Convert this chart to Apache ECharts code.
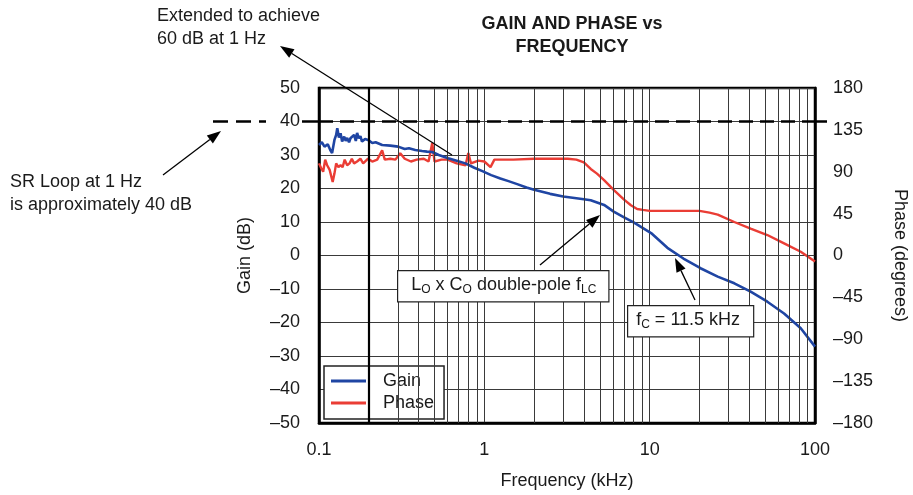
<!DOCTYPE html>
<html><head><meta charset="utf-8">
<script src="https://cdn.jsdelivr.net/npm/echarts/dist/echarts.min.js"></script>
<style>html,body{margin:0;padding:0;background:#fff}#c{width:913px;height:495px}</style>
</head><body><div id="c"></div>
<script>
// ---- data ----
const gainFreq = [0.100,0.104,0.108,0.113,0.117,0.120,0.124,0.127,0.129,0.132,0.135,0.138,0.142,0.145,0.148,0.152,0.155,0.159,0.163,0.167,0.170,0.174,0.178,0.182,0.190,0.198,0.21,0.22,0.241,0.27,0.301,0.33,0.35,0.382,0.42,0.45,0.484,0.53,0.605,0.68,0.768,0.87,0.973,1.1,1.25,1.4,1.58,1.8,2.0,2.5,3.0,4.0,4.4,5.3,6.06,7.0,8.0,10.2,12.8,16.0,20.3,25.8,32.5,40.8,51.5,65,82,100];
const gainDb = [33.0,33.8,32.5,33.2,31.5,30.6,34.5,36.0,38.0,35.2,36.5,34.0,35.5,34.2,35.1,33.8,35.0,34.5,36.0,34.2,36.6,35.0,35.6,34.0,34.8,34.5,33.6,33.8,33.0,32.8,32.5,31.8,32.0,31.5,31.2,31.0,30.9,30.0,29.0,28.3,27.5,26.2,25.2,24.0,23.0,22.2,21.3,20.3,19.6,18.4,17.6,16.8,16.5,15.1,13.1,11.4,9.9,6.7,2.3,-0.9,-3.8,-6.3,-8.3,-10.8,-13.8,-17.3,-21.7,-27.2];
const phaseFreq = [0.100,0.103,0.106,0.109,0.112,0.116,0.119,0.121,0.124,0.127,0.131,0.135,0.139,0.143,0.148,0.153,0.158,0.163,0.170,0.178,0.185,0.198,0.21,0.225,0.241,0.25,0.27,0.29,0.31,0.33,0.36,0.39,0.43,0.46,0.484,0.50,0.55,0.60,0.68,0.77,0.80,0.83,0.92,1.0,1.09,1.15,1.5,2.0,2.6,3.2,3.6,4.0,4.4,4.8,5.3,6.1,7.0,7.7,8.4,9.1,10,15,20,23,25.8,32.5,40.8,51.5,65,82,100];
const phaseDeg = [99,94,90,103,97,92,94,79,88,99,95,97,95,103,97,99,104,99,101,104,99,104,101,103,113,103,104,103,110,104,101,103,104,101,121,101,103,103,99,97,110,99,102,101,95,103,103,104,104,104,103,100,93,88,81,70,60,54,50,49,48,48,48,46,44,36,29,22,13,4,-6.5];
const xTickLabels = ['0.1','1','10','100'];
const gainTicks = [-50,50,10];      // min, max, step
const phaseTicks = [-180,180,45];
const minorGridFreq = [0.3,0.4,0.5,0.6,0.7,0.8,0.9,2,3,4,5,6,7,8,9,20,30,40,50,60,70,80,90];
const boldGridFreq = [0.2];
const refGainDb = 40;

const FONT = '"Liberation Sans", Arial, sans-serif';
const TXT = '#1a1a1a';
const BLUE = '#1f45a3', RED = '#ea3d35';
const dash = v => String(v).replace('-', '\u2013');

const chart = echarts.init(document.getElementById('c'), null, {renderer:'canvas'});
const gridLineData = minorGridFreq.map(f => ({xAxis: f, lineStyle:{color:'#3a3a3a', width:1, type:'solid'}}))
  .concat(boldGridFreq.map(f => ({xAxis: f, lineStyle:{color:'#000', width:2.2, type:'solid'}})));

chart.setOption({
  animation: false,
  textStyle: {fontFamily: FONT},
  title: {
    text: 'GAIN AND PHASE vs\nFREQUENCY', left: 567, top: 8, textAlign: 'center',
    textStyle: {fontFamily: FONT, fontWeight: 'bold', fontSize: 18, lineHeight: 23, color: TXT}
  },
  legend: {
    data: ['Gain','Phase'], orient: 'vertical', left: 324, top: 366,
    icon: 'rect', itemWidth: 35, itemHeight: 3, itemGap: 4,
    padding: [6, 10, 7, 7], borderColor: '#222', borderWidth: 1.5, backgroundColor: '#fff',
    textStyle: {fontFamily: FONT, fontSize: 18, color: TXT, padding: [0,0,0,12]}
  },
  grid: {left: 319, right: 98, top: 88, bottom: 72, show: true, borderColor: '#000', borderWidth: 2.5, backgroundColor: 'transparent', containLabel: false, outerBoundsMode: 'none'},
  xAxis: {
    type: 'log', logBase: 10, min: 0.1, max: 100,
    name: 'Frequency (kHz)', nameLocation: 'middle', nameGap: 49,
    nameTextStyle: {fontFamily: FONT, fontSize: 18, color: TXT},
    axisLine: {show: true, onZero: false, lineStyle: {color: '#000', width: 2.5}},
    axisTick: {show: false}, minorTick: {show: false},
    axisLabel: {margin: 18, fontFamily: FONT, fontSize: 18, color: TXT,
      formatter: v => { const i = Math.round(Math.log10(v) + 1); return xTickLabels[i] || ''; }},
    splitLine: {show: true, lineStyle: {color: '#3a3a3a', width: 1}}
  },
  yAxis: [{
    type: 'value', min: gainTicks[0], max: gainTicks[1], interval: gainTicks[2],
    name: 'Gain (dB)', nameLocation: 'middle', nameGap: 65, nameRotate: 90,
    nameTextStyle: {fontFamily: FONT, fontSize: 18, color: TXT},
    axisLine: {show: true, onZero: false, lineStyle: {color: '#000', width: 2.5}}, axisTick: {show: false},
    axisLabel: {margin: 19, fontFamily: FONT, fontSize: 18, color: TXT, formatter: dash},
    splitLine: {show: true, lineStyle: {color: '#3a3a3a', width: 1}}
  }, {
    type: 'value', min: phaseTicks[0], max: phaseTicks[1], interval: phaseTicks[2], position: 'right',
    name: 'Phase (degrees)', nameLocation: 'middle', nameGap: 76, nameRotate: -90,
    nameTextStyle: {fontFamily: FONT, fontSize: 18, color: TXT},
    axisLine: {show: true, onZero: false, lineStyle: {color: '#000', width: 2.5}}, axisTick: {show: false},
    axisLabel: {margin: 18, fontFamily: FONT, fontSize: 18, color: TXT, formatter: dash},
    splitLine: {show: false}
  }],
  series: [{
    name: 'gridlines', type: 'line', data: [], z: 1, silent: true,
    markLine: {silent: true, symbol: 'none', label: {show: false}, animation: false, data: gridLineData}
  }, {
    name: 'Gain', type: 'line', yAxisIndex: 0, z: 4, symbol: 'none', showSymbol: false,
    data: gainFreq.map((f, i) => [f, gainDb[i]]),
    lineStyle: {color: BLUE, width: 2.6}, itemStyle: {color: BLUE},
    markLine: {silent: true, symbol: 'none', label: {show: false}, animation: false,
      lineStyle: {color: '#000', width: 2.5, type: [14, 7]}, data: [{yAxis: refGainDb}]}
  }, {
    name: 'Phase', type: 'line', yAxisIndex: 1, z: 3, symbol: 'none', showSymbol: false,
    data: phaseFreq.map((f, i) => [f, phaseDeg[i]]),
    lineStyle: {color: RED, width: 2.4}, itemStyle: {color: RED}
  }]
});

// ---- annotations ----
function arrow(x1, y1, x2, y2) { // tail -> head
  const a = Math.atan2(y2 - y1, x2 - x1), L = 14, W = 5;
  const bx = x2 - L * Math.cos(a), by = y2 - L * Math.sin(a);
  return [
    {type: 'line', shape: {x1: x1, y1: y1, x2: bx, y2: by}, style: {stroke: '#000', lineWidth: 1.3}, z: 20},
    {type: 'polygon', shape: {points: [[x2, y2], [bx + W * Math.sin(a), by - W * Math.cos(a)], [bx - W * Math.sin(a), by + W * Math.cos(a)]]}, style: {fill: '#000'}, z: 20}
  ];
}
const y40 = chart.convertToPixel({yAxisIndex: 0}, refGainDb);
const xR = chart.convertToPixel({xAxisIndex: 0}, 100);
const xL = chart.convertToPixel({xAxisIndex: 0}, 0.1);
const textStyle = {fontFamily: FONT, fontSize: 18, fill: TXT, lineHeight: 23};
const subRich = {
  n: {fontFamily: FONT, fontSize: 18, fill: TXT, lineHeight: 22},
  s: {fontFamily: FONT, fontSize: 12, fill: TXT, padding: [9, 0, 0, 0]}
};
const g = [
  {type: 'line', shape: {x1: 213, y1: y40, x2: 266, y2: y40}, style: {stroke: '#000', lineWidth: 2.5, lineDash: [15, 8]}, z: 20},
  {type: 'line', shape: {x1: 302, y1: y40, x2: xL, y2: y40}, style: {stroke: '#000', lineWidth: 2.5}, z: 20},
  {type: 'line', shape: {x1: xR, y1: y40, x2: xR + 12, y2: y40}, style: {stroke: '#000', lineWidth: 2.5}, z: 20},
  {type: 'text', left: 157, top: 5, style: Object.assign({text: 'Extended to achieve\n60 dB at 1 Hz'}, textStyle), z: 20},
  {type: 'text', left: 10, top: 171, style: Object.assign({text: 'SR Loop at 1 Hz\nis approximately 40 dB'}, textStyle), z: 20},
  {type: 'text', left: 397, top: 270, z: 20, style: {
    text: '{n|L}{s|O}{n| x C}{s|O}{n| double-pole f}{s|LC}', rich: subRich,
    fontFamily: FONT, fontSize: 18, fill: TXT,
    backgroundColor: '#fff', borderColor: '#222', borderWidth: 1.2, padding: [3, 12, 5, 13]}},
  {type: 'text', left: 627, top: 305, z: 20, style: {
    text: '{n|f}{s|C}{n| = 11.5 kHz}', rich: subRich,
    fontFamily: FONT, fontSize: 18, fill: TXT,
    backgroundColor: '#fff', borderColor: '#222', borderWidth: 1.2, padding: [3, 13, 5, 8]}}
].concat(arrow(452, 155, 280, 46), arrow(163, 175, 221, 131), arrow(540, 265, 600, 215), arrow(695, 300, 675, 258));
chart.setOption({graphic: g});
</script>
</body></html>
